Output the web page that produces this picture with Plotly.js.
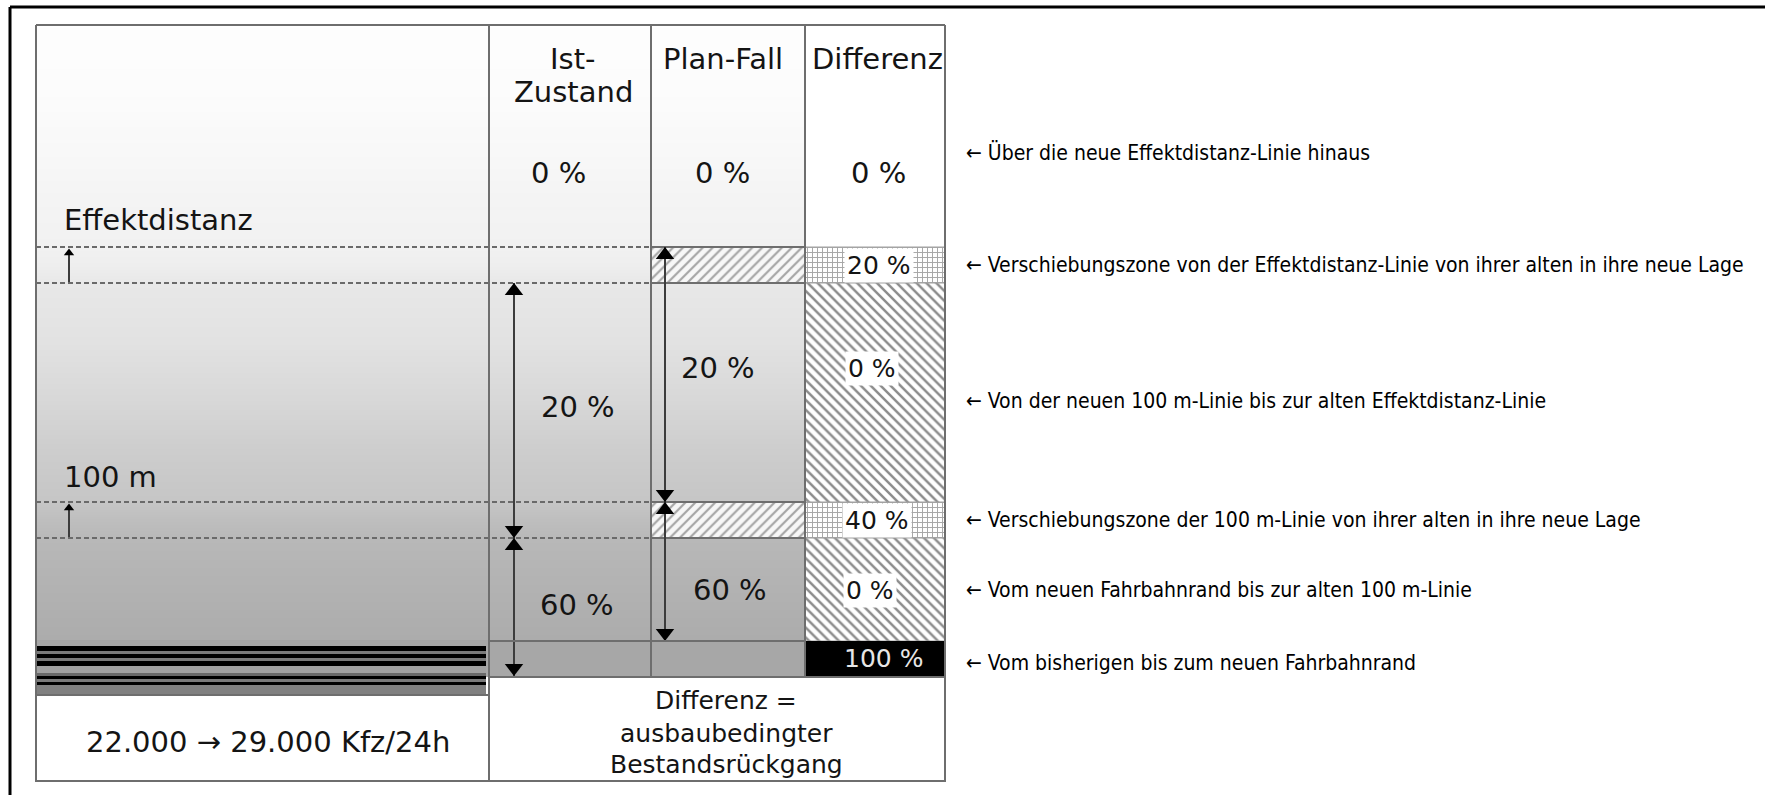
<!DOCTYPE html>
<html>
<head>
<meta charset="utf-8">
<script src="https://cdn.plot.ly/plotly-3.0.1.min.js"></script>
<style>html,body{margin:0;padding:0;background:#fff;}#chart{width:1765px;height:795px;}</style>
</head>
<body>
<div id="chart"></div>
<script>
// ---------------- DATA ----------------
const columnHeaders = [['Ist-', 'Zustand'], ['Plan-Fall'], ['Differenz']];
const zoneNames = ['jenseits', 'Verschiebung Effektdistanz', 'Mitte', 'Verschiebung 100 m', 'Nahbereich', 'Fahrbahn'];
const istLabels = ['0 %', '20 %', '60 %'];
const planLabels = ['0 %', '20 %', '60 %'];
const diffLabels = ['0 %', '20 %', '0 %', '40 %', '0 %', '100 %'];
const leftLabels = ['Effektdistanz', '100 m'];
const trafficLabel = '22.000 \u2192 29.000 Kfz/24h';
const footerLines = ['Differenz =', 'ausbaubedingter', 'Bestandsrückgang'];
const rightNotes = [
  'Über die neue Effektdistanz-Linie hinaus',
  'Verschiebungszone von der Effektdistanz-Linie von ihrer alten in ihre neue Lage',
  'Von der neuen 100 m-Linie bis zur alten Effektdistanz-Linie',
  'Verschiebungszone der 100 m-Linie von ihrer alten in ihre neue Lage',
  'Vom neuen Fahrbahnrand bis zur alten 100 m-Linie',
  'Vom bisherigen bis zum neuen Fahrbahnrand'
];

// ---------------- GEOMETRY & STYLE (diagram units) ----------------
const G = {
  left: 36, c1: 489, c2: 651, c3: 805, right: 945, top: 25, bottom: 781,
  newED: 247, oldED: 283, new100: 502, old100: 538, newRoad: 641, oldRoad: 676, grayEnd: 677, roadEnd: 695,
  arrowIst: 514, arrowPlan: 665, arrowLeft: 69,
  headerY1: 59, headerY2: 92,
  istX: [558, 578, 577], istY: [173, 407, 605],
  planX: [722, 718, 730], planY: [173, 368, 590],
  diffX: [878, 879, 872, 877, 870, 883], diffY: [173, 265, 368, 520, 590, 658],
  headerX: [573, 723, 877],
  leftLabelX: 62, leftLabelY: [220, 477],
  trafficX: 268, trafficY: 742,
  footerX: 726, footerY: [700, 733, 764],
  noteX: 964, noteY: [152, 265, 401, 520, 590, 663]
};
// background shading of the roadside (gray level per band)
const shadeEdges = [25, 27, 150, 247, 283, 400, 502, 538, 639, 641];
const shadeLevels = [255, 252, 244, 238, 226, 205, 190, 178, 166];

const FONT = '"DejaVu Sans", Verdana, sans-serif';
const NARROW = '"Liberation Sans Narrow", "Arial Narrow", "DejaVu Sans Condensed", sans-serif';
const LINE = '#6e6e6e';
const INK = '#141414';

const traces = [];
const shapes = [];
const annotations = [];

// gradient background (left column, Ist and Plan) via smoothed heatmap
traces.push({
  type: 'heatmap',
  x: [G.left, (G.left + G.c3) / 2, G.c3],
  y: shadeEdges,
  z: shadeLevels.map(v => [v, v]),
  zmin: 0, zmax: 255, zsmooth: 'best',
  colorscale: [[0, '#000000'], [1, '#ffffff']],
  showscale: false, hoverinfo: 'skip'
});

// gray band between new and old roadside
shapes.push({type: 'rect', xref: 'x', yref: 'y', x0: G.left, x1: G.c3, y0: G.newRoad - 1, y1: G.grayEnd,
  fillcolor: '#a7a7a7', line: {width: 0}, layer: 'below'});

// Plan-Fall shifting zones (hatched /)
const planCx = (G.c2 + G.c3) / 2, planW = G.c3 - G.c2;
traces.push({
  type: 'bar', x: [planCx, planCx], width: [planW, planW],
  base: [G.newED, G.new100], y: [G.oldED - G.newED, G.old100 - G.new100],
  marker: {color: '#f7f7f7', line: {color: LINE, width: 2},
    pattern: {shape: '/', fgcolor: '#a4a4a4', bgcolor: '#f7f7f7', size: 7, solidity: 0.3, fillmode: 'replace'}},
  hoverinfo: 'skip'
});

// Differenz column
const diffCx = (G.c3 + G.right) / 2, diffW = G.right - G.c3;
traces.push({
  type: 'bar', x: [diffCx], width: [diffW], base: [G.top], y: [G.newED - G.top],
  marker: {color: '#ffffff', line: {width: 0}}, hoverinfo: 'skip'
});
traces.push({
  type: 'bar', x: [diffCx, diffCx], width: [diffW, diffW],
  base: [G.newED, G.new100], y: [G.oldED - G.newED, G.old100 - G.new100],
  marker: {color: '#ffffff', line: {color: '#a0a0a0', width: 1},
    pattern: {shape: '+', fgcolor: '#a6a6a6', bgcolor: '#ffffff', size: 5, solidity: 0.35, fillmode: 'replace'}},
  hoverinfo: 'skip'
});
traces.push({
  type: 'bar', x: [diffCx, diffCx], width: [diffW, diffW],
  base: [G.oldED, G.old100], y: [G.new100 - G.oldED, G.newRoad - G.old100],
  marker: {color: '#ffffff', line: {color: '#a0a0a0', width: 1},
    pattern: {shape: '\\', fgcolor: '#8c8c8c', bgcolor: '#ffffff', size: 7, solidity: 0.35, fillmode: 'replace'}},
  hoverinfo: 'skip'
});
traces.push({
  type: 'bar', x: [diffCx], width: [diffW], base: [G.newRoad], y: [G.oldRoad - G.newRoad],
  marker: {color: '#000000', line: {width: 0}}, hoverinfo: 'skip'
});

// road lines in left column
const roadBands = [
  [646, 651, '#000000'], [651, 654, '#7a7a7a'], [654, 658, '#000000'], [658, 661, '#7a7a7a'],
  [661, 666, '#000000'], [666, 673, '#a2a2a2'], [673, 676, '#6a6a6a'], [676, 679, '#000000'],
  [679, 682, '#7a7a7a'], [682, 685, '#000000'], [685, G.roadEnd, '#808080']
];
roadBands.forEach(b => shapes.push({type: 'rect', xref: 'x', yref: 'y', x0: G.left, x1: G.c1 - 3, y0: b[0], y1: b[1],
  fillcolor: b[2], line: {width: 0}, layer: 'above'}));

// bottom white boxes
shapes.push({type: 'rect', xref: 'x', yref: 'y', x0: G.left, x1: G.c1, y0: G.roadEnd, y1: G.bottom,
  fillcolor: '#ffffff', line: {color: LINE, width: 2}, layer: 'above'});
shapes.push({type: 'rect', xref: 'x', yref: 'y', x0: G.c1, x1: G.right, y0: G.grayEnd, y1: G.bottom,
  fillcolor: '#ffffff', line: {color: LINE, width: 2}, layer: 'above'});

// dashed zone lines (left column + Ist)
[G.newED, G.oldED, G.new100, G.old100].forEach(y => shapes.push({type: 'line', xref: 'x', yref: 'y',
  x0: G.left, x1: G.c2, y0: y, y1: y, line: {color: '#6a6a6a', width: 2, dash: '5px,3px'}, layer: 'above'}));

// grid lines
const L = (x0, y0, x1, y1, c, w) => shapes.push({type: 'line', xref: 'x', yref: 'y', x0, y0, x1, y1,
  line: {color: c || LINE, width: w || 2}, layer: 'above'});
L(G.left, G.top, G.right, G.top);
L(G.left, G.top, G.left, G.bottom);
L(G.c1, G.top, G.c1, G.bottom);
L(G.c2, G.top, G.c2, G.grayEnd);
L(G.c3, G.top, G.c3, G.grayEnd);
L(G.right, G.top, G.right, G.bottom);
L(G.c1, G.newRoad, G.c3, G.newRoad);
L(G.left, G.bottom, G.right, G.bottom);

// outer frame
shapes.push({type: 'line', xref: 'x', yref: 'y', x0: 10, x1: 1765, y0: 7, y1: 7, line: {color: '#000', width: 3}, layer: 'above'});
shapes.push({type: 'line', xref: 'x', yref: 'y', x0: 10, x1: 10, y0: 7, y1: 795, line: {color: '#000', width: 3}, layer: 'above'});

// arrows
const arrowLine = (x, y0, y1, w) => traces.push({type: 'scatter', mode: 'lines', x: [x, x], y: [y0, y1],
  line: {color: '#3c3c3c', width: w || 2}, hoverinfo: 'skip'});
const heads = (xs, ys, syms, size) => traces.push({type: 'scatter', mode: 'markers', x: xs, y: ys,
  marker: {symbol: syms, size: size, color: '#000', line: {width: 0}}, hoverinfo: 'skip'});
const R = 8;
arrowLine(G.arrowIst, G.oldED, G.oldRoad);
heads([G.arrowIst, G.arrowIst, G.arrowIst, G.arrowIst],
  [G.oldED + R, G.old100 - R, G.old100 + R, G.oldRoad - R],
  ['triangle-up', 'triangle-down', 'triangle-up', 'triangle-down'], 16);
arrowLine(G.arrowPlan, G.newED, G.newRoad);
heads([G.arrowPlan, G.arrowPlan, G.arrowPlan, G.arrowPlan],
  [G.newED + R, G.new100 - R, G.new100 + R, G.newRoad - R],
  ['triangle-up', 'triangle-down', 'triangle-up', 'triangle-down'], 16);
arrowLine(G.arrowLeft, G.newED + 3, G.oldED, 2);
arrowLine(G.arrowLeft, G.new100 + 3, G.old100, 2);
heads([G.arrowLeft, G.arrowLeft], [G.newED + 6, G.new100 + 6], ['triangle-up', 'triangle-up'], 9);

// texts
const T = (x, y, text, opts) => annotations.push(Object.assign({x, y, xref: 'x', yref: 'y', text, showarrow: false,
  xanchor: 'center', yanchor: 'middle', font: {family: FONT, size: 29, color: INK}}, opts || {}));

columnHeaders.forEach((lines, i) => {
  T(G.headerX[i], G.headerY1, lines[0]);
  if (lines.length === 2) T(G.headerX[i], G.headerY2, lines[1]);
});
istLabels.forEach((t, i) => T(G.istX[i], G.istY[i], t));
planLabels.forEach((t, i) => T(G.planX[i], G.planY[i], t));
diffLabels.forEach((t, i) => {
  if (i === 0) T(G.diffX[i], G.diffY[i], t);
  else if (i === diffLabels.length - 1) T(G.diffX[i], G.diffY[i], t, {font: {family: FONT, size: 25, color: '#e6e6e6'}});
  else T(G.diffX[i], G.diffY[i], t, {bgcolor: '#ffffff', borderpad: 2, font: {family: FONT, size: 25, color: INK}});
});
leftLabels.forEach((t, i) => T(G.leftLabelX, G.leftLabelY[i], t, {xanchor: 'left'}));
T(G.trafficX, G.trafficY, trafficLabel, {font: {family: FONT, size: 29, color: INK}});
footerLines.forEach((t, i) => T(G.footerX, G.footerY[i], t, {font: {family: FONT, size: 25, color: INK}}));
rightNotes.forEach((t, i) => T(G.noteX, G.noteY[i], '\u2190 ' + t,
  {xanchor: 'left', font: {family: NARROW, size: 21, color: '#000'}}));

const layout = {
  width: 1765, height: 795,
  margin: {l: 0, r: 0, t: 0, b: 0, pad: 0},
  paper_bgcolor: '#ffffff', plot_bgcolor: '#ffffff',
  showlegend: false, barmode: 'overlay', bargap: 0,
  xaxis: {range: [0, 1765], visible: false, fixedrange: true},
  yaxis: {range: [795, 0], visible: false, fixedrange: true},
  shapes, annotations
};

Plotly.newPlot('chart', traces, layout, {displayModeBar: false, staticPlot: true});
</script>
</body>
</html>
